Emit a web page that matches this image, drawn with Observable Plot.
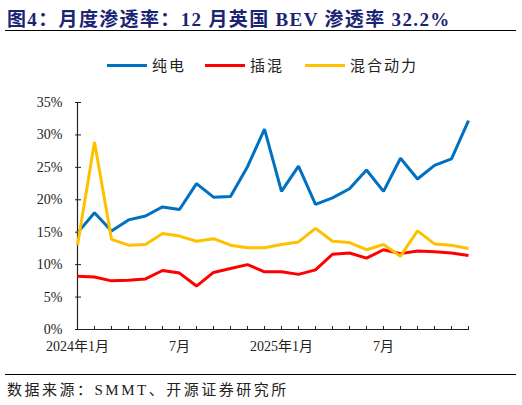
<!DOCTYPE html>
<html>
<head>
<meta charset="utf-8">
<script src="https://cdn.jsdelivr.net/npm/d3@7"></script>
<script src="https://cdn.jsdelivr.net/npm/@observablehq/plot@0.6"></script>
<style>
  html, body { margin: 0; padding: 0; background: #fff; }
  body { width: 522px; height: 405px; position: relative; overflow: hidden;
         font-family: "Liberation Serif", "Noto Sans CJK SC", serif; }
  #title { position: absolute; left: 5px; top: 0; width: 511px; height: 30px;
           border-bottom: 1.3px solid #000; }
  #title span { position: absolute; left: 2px; top: 4px; font-size: 19px; font-weight: bold;
                color: #1a2473; white-space: nowrap; letter-spacing: 1.35px; }
  .lg { position: absolute; top: 55px; height: 20px; font-size: 15px; color: #222;
        font-family: "Noto Sans CJK SC", sans-serif; letter-spacing: 2px; }
  .lg i { position: absolute; top: 9px; width: 40px; height: 3px; }
  .lg b { position: absolute; left: 45px; top: -1px; font-weight: normal; white-space: nowrap; }
  #chart { position: absolute; left: 0; top: 80px; }
  #foot { position: absolute; left: 5px; top: 374px; width: 511px; border-top: 1.3px solid #000; }
  #foot span { position: absolute; left: 2px; top: 3px; font-size: 15px; color: #222; white-space: nowrap;
               font-family: "Liberation Serif", "Noto Sans CJK SC", serif; letter-spacing: 2.5px; }
</style>
</head>
<body>
<div id="title"><span>图4：月度渗透率：12 月英国 BEV 渗透率 32.2%</span></div>
<div class="lg" style="left:107px"><i style="background:#0070C0"></i><b>纯电</b></div>
<div class="lg" style="left:205px"><i style="background:#FF0000"></i><b>插混</b></div>
<div class="lg" style="left:305px"><i style="background:#FFC000"></i><b>混合动力</b></div>
<div id="chart"></div>
<div id="foot"><span>数据来源：SMMT、开源证券研究所</span></div>
<script>
const months = ["2024-01","2024-02","2024-03","2024-04","2024-05","2024-06","2024-07","2024-08","2024-09","2024-10","2024-11","2024-12",
                "2025-01","2025-02","2025-03","2025-04","2025-05","2025-06","2025-07","2025-08","2025-09","2025-10","2025-11","2025-12"];
const tickLabels = {"2024-01": "2024年1月", "2024-07": "7月", "2025-01": "2025年1月", "2025-07": "7月"};
const bev  = [14.9, 18.0, 15.2, 16.9, 17.5, 18.9, 18.5, 22.5, 20.4, 20.5, 25.1, 30.9,
              21.3, 25.2, 19.3, 20.3, 21.7, 24.6, 21.3, 26.4, 23.2, 25.3, 26.3, 32.2];
const phev = [8.2, 8.1, 7.5, 7.6, 7.8, 9.1, 8.7, 6.7, 8.8, 9.4, 10.0, 8.9,
              8.9, 8.5, 9.2, 11.6, 11.8, 11.0, 12.3, 11.7, 12.1, 12.0, 11.8, 11.4];
const hev  = [13.0, 28.9, 13.9, 13.0, 13.1, 14.8, 14.4, 13.6, 14.0, 13.0, 12.6, 12.6,
              13.1, 13.5, 15.6, 13.6, 13.4, 12.3, 13.1, 11.3, 15.2, 13.2, 13.0, 12.5];
const seriesNames = ["纯电", "插混", "混合动力"];
const seriesColors = ["#0070C0", "#FF0000", "#FFC000"];
const yTicks = [0, 5, 10, 15, 20, 25, 30, 35];

const rows = [];
[bev, phev, hev].forEach((arr, s) => arr.forEach((v, i) => rows.push({month: months[i], value: v, series: seriesNames[s]})));

const chart = Plot.plot({
  width: 522, height: 280,
  marginLeft: 75, marginRight: 53, marginTop: 22, marginBottom: 31,
  style: {fontFamily: "'Liberation Serif','Noto Sans CJK SC',serif", fontSize: "14px", color: "#222", background: "#fff"},
  x: {type: "point", domain: months, padding: 0, label: null},
  y: {domain: [0, 35], label: null},
  color: {domain: seriesNames, range: seriesColors},
  marks: [
    Plot.axisY({ticks: yTicks, tickSize: 0, tickPadding: 13, tickFormat: d => d + "%", fill: "#222", label: null}),
    Plot.axisY({ticks: yTicks, tickSize: 6, dx: 6, tickFormat: () => "", stroke: "#222", label: null}),
    Plot.axisX({ticks: months, tickSize: 3, dy: -3, tickFormat: () => "", stroke: "#222", label: null}),
    Plot.axisX({ticks: Object.keys(tickLabels), tickSize: 0, tickPadding: 12, tickFormat: d => tickLabels[d], fill: "#222", label: null}),
    Plot.ruleY([0], {stroke: "#222", strokeWidth: 1.2}),
    Plot.ruleX([months[0]], {stroke: "#222", strokeWidth: 1.2}),
    Plot.line(rows, {x: "month", y: "value", z: "series", stroke: "series", strokeWidth: 3, strokeLinejoin: "miter", strokeLinecap: "butt"})
  ]
});
document.getElementById("chart").appendChild(chart);
</script>
</body>
</html>
